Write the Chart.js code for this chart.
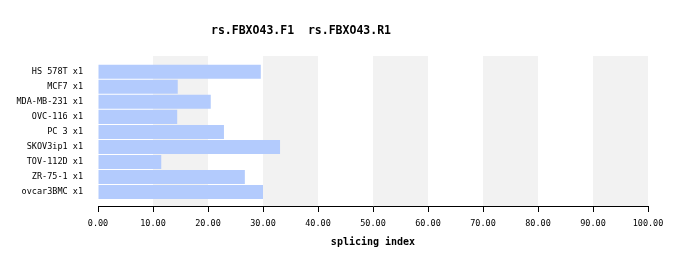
<!DOCTYPE html>
<html>
<head>
<meta charset="utf-8">
<script src="https://cdn.jsdelivr.net/npm/chart.js@4/dist/chart.umd.min.js"></script>
<style>
  html, body { margin: 0; padding: 0; background: #fff; }
  #wrap { width: 688px; height: 266px; }
</style>
</head>
<body>
<div id="wrap"><canvas id="c" width="688" height="266"></canvas></div>
<script>
const chartTitle = 'rs.FBXO43.F1  rs.FBXO43.R1';
const cellLines = ['HS 578T x1', 'MCF7 x1', 'MDA-MB-231 x1', 'OVC-116 x1', 'PC 3 x1',
                   'SKOV3ip1 x1', 'TOV-112D x1', 'ZR-75-1 x1', 'ovcar3BMC x1'];
const splicingIndex = [29.6, 14.5, 20.5, 14.4, 22.9, 33.1, 11.5, 26.7, 30.0];
const xTicks = [0, 10, 20, 30, 40, 50, 60, 70, 80, 90, 100];
const shadedBands = [[10, 20], [30, 40], [50, 60], [70, 80], [90, 100]];

const mono = 'DejaVu Sans Mono, monospace';

// grey background stripes behind the bars
const bandsPlugin = {
    id: 'bands',
    beforeDatasetsDraw(chart) {
        const { ctx, chartArea, scales } = chart;
        ctx.save();
        ctx.fillStyle = '#f2f2f2';
        shadedBands.forEach(([a, b]) => {
            const x0 = scales.x.getPixelForValue(a);
            const x1 = scales.x.getPixelForValue(b);
            ctx.fillRect(x0, chartArea.top, x1 - x0, chartArea.bottom - chartArea.top);
        });
        ctx.restore();
    }
};

// title sits left of centre in the original
const titlePlugin = {
    id: 'offsetTitle',
    afterDraw(chart) {
        const ctx = chart.ctx;
        ctx.save();
        ctx.font = 'bold 11.5px ' + mono;
        ctx.fillStyle = '#000';
        ctx.textAlign = 'center';
        ctx.textBaseline = 'middle';
        ctx.fillText(chartTitle, 301, 31);
        ctx.restore();
    }
};

new Chart(document.getElementById('c'), {
    type: 'bar',
    data: {
        datasets: [{
            data: splicingIndex.map((v, i) => ({ x: v, y: i })),
            backgroundColor: '#b3cbfd',
            borderWidth: 0,
            categoryPercentage: 1,
            barPercentage: 0.935
        }]
    },
    options: {
        indexAxis: 'y',
        responsive: false,
        animation: false,
        layout: { padding: { top: 56, right: 40, left: 0, bottom: 0 } },
        plugins: { legend: { display: false }, tooltip: { enabled: false } },
        scales: {
            x: {
                type: 'linear',
                min: 0, max: 100,
                afterBuildTicks: axis => { axis.ticks = xTicks.map(v => ({ value: v })); },
                afterFit: axis => { axis.height = 60; },
                grid: { drawOnChartArea: false, drawTicks: true, tickLength: 6, color: '#000' },
                border: { color: '#000', width: 1 },
                ticks: {
                    color: '#000', padding: 7, maxRotation: 0,
                    font: { family: mono, size: 8.5 },
                    callback: v => v.toFixed(2)
                },
                title: {
                    display: true, text: 'splicing index', color: '#000',
                    font: { family: mono, size: 10, weight: 'bold' },
                    padding: { top: 0, bottom: 18 }
                }
            },
            y: {
                type: 'linear',
                reverse: true,
                offset: false,
                min: -1.05, max: 8.93,
                afterBuildTicks: axis => { axis.ticks = cellLines.map((_, i) => ({ value: i })); },
                afterFit: axis => { axis.width = 98; },
                grid: { display: false, drawTicks: false, offset: false },
                border: { display: false },
                ticks: {
                    color: '#000', padding: 15,
                    font: { family: mono, size: 8.5 },
                    callback: v => cellLines[v] ?? ''
                }
            }
        }
    },
    plugins: [bandsPlugin, titlePlugin]
});
</script>
</body>
</html>
